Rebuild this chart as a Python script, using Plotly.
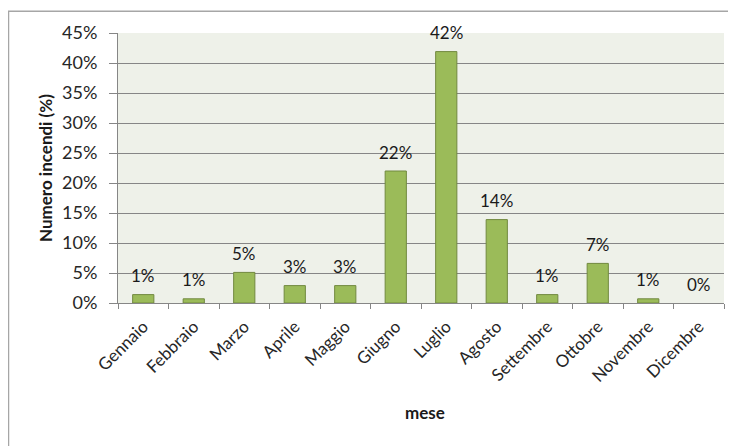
import plotly.graph_objects as go

mesi = ["Gennaio", "Febbraio", "Marzo", "Aprile", "Maggio", "Giugno",
        "Luglio", "Agosto", "Settembre", "Ottobre", "Novembre", "Dicembre"]
valori = [0.014, 0.007, 0.051, 0.029, 0.029, 0.220,
          0.419, 0.139, 0.014, 0.066, 0.007, 0.0]
etichette = ["1%", "1%", "5%", "3%", "3%", "22%", "42%", "14%", "1%", "7%", "1%", "0%"]

FONT = "Lato"
fig = go.Figure()
fig.add_trace(go.Bar(
    x=mesi, y=valori,
    marker=dict(color="#9BBB59",
                line=dict(color="#71893F", width=[1 if v > 0 else 0 for v in valori])),
    width=0.42,
))
for m, v, t in zip(mesi, valori, etichette):
    fig.add_annotation(x=m, y=v, text=t, showarrow=False, yshift=19,
                       font=dict(family=FONT, size=17, color="#1a1a1a"))

fig.add_annotation(xref="paper", yref="paper", x=0.507, y=-0.407,
                   xanchor="center", yanchor="middle",
                   text="<b>mese</b>", showarrow=False,
                   font=dict(family=FONT, size=17, color="#1a1a1a"))
fig.add_annotation(xref="paper", yref="paper", x=-0.1205, y=0.5, textangle=-90,
                   xanchor="center", yanchor="middle",
                   text="<b>Numero incendi (%)</b>", showarrow=False,
                   font=dict(family=FONT, size=17, color="#1a1a1a"))

fig.update_layout(
    width=736, height=446,
    margin=dict(l=110, r=20, t=25, b=151, autoexpand=False),
    paper_bgcolor="white",
    plot_bgcolor="#EEF1E9",
    showlegend=False,
    font=dict(family=FONT, size=17, color="#262626"),
    shapes=[dict(type="rect", xref="paper", yref="paper",
                 x0=-0.1807, x1=1.018, y0=-0.6, y1=1.081,
                 line=dict(color="#A6A6A6", width=1.5), layer="below")],
)
fig.update_xaxes(
    automargin=False,
    showline=True, linecolor="#868686", linewidth=1,
    ticks="outside", ticklen=5, tickcolor="#868686", tickson="boundaries",
    ticklabelstandoff=6,
    tickangle=-45, tickfont=dict(family=FONT, size=17, color="#262626"),
)
fig.update_yaxes(
    automargin=False,
    range=[0, 0.45], dtick=0.05, tickformat=".0%",
    showgrid=True, gridcolor="#868686", gridwidth=1,
    showline=True, linecolor="#868686", linewidth=1,
    ticks="outside", ticklen=8, tickcolor="#868686",
    ticklabelstandoff=8,
    zeroline=False,
    tickfont=dict(family=FONT, size=18, color="#262626"),
)
fig.write_html("out.html")
